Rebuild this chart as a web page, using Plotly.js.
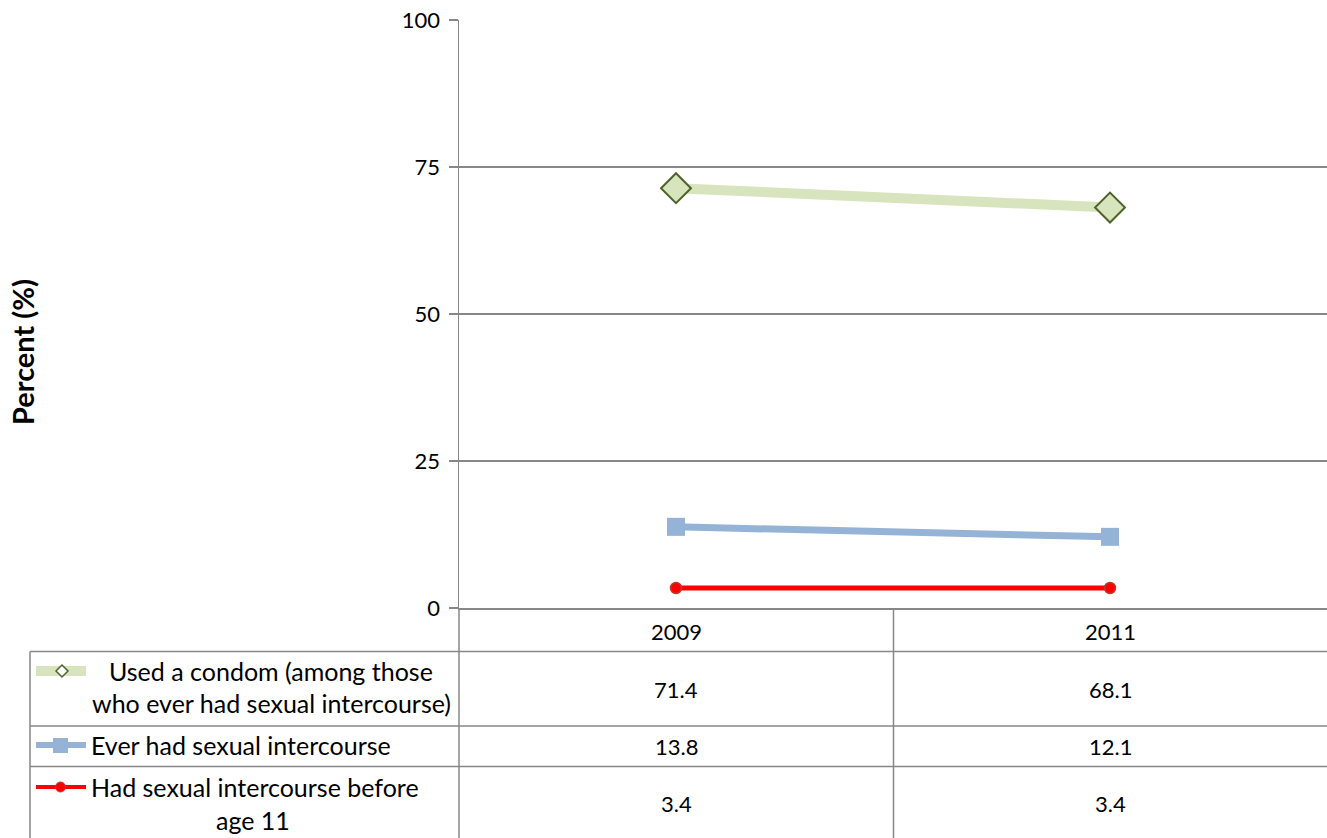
<!DOCTYPE html>
<html>
<head>
<meta charset="utf-8">
<script src="https://cdn.plot.ly/plotly-3.0.1.min.js"></script>
<style>html,body{margin:0;padding:0;background:#fff;}#chart{width:1327px;height:838px;}</style>
</head>
<body>
<div id="chart"></div>
<script>
// ---- data ----
var categories = ['2009', '2011'];
var condomValues = [71.4, 68.1];
var everValues = [13.8, 12.1];
var before11Values = [3.4, 3.4];
var yTickValues = [0, 25, 50, 75, 100];
var yTickLabels = ['0', '25', '50', '75', '100'];

var W = 1327, H = 838;
var L = 459, R = 0, T = 20, B = 230;
var plotW = W - L - R, plotH = H - T - B;
function px(x) { return (x - L) / plotW; }
function py(y) { return (H - B - y) / plotH; }

var FONT = 'Lato, "Open Sans", sans-serif';
var GRID = '#878787';
var xIdx = categories.map(function (c, i) { return i; });

var traces = [
  {
    x: xIdx, y: condomValues, type: 'scatter', mode: 'lines+markers',
    name: 'Used a condom (among those who ever had sexual intercourse)',
    line: { color: '#d7e4bd', width: 10 },
    marker: { symbol: 'diamond', size: 23, color: '#d7e4bd', line: { color: '#4f6228', width: 2 } }
  },
  {
    x: xIdx, y: everValues, type: 'scatter', mode: 'lines+markers',
    name: 'Ever had sexual intercourse',
    line: { color: '#95b3d7', width: 7 },
    marker: { symbol: 'square', size: 18, color: '#95b3d7', line: { width: 0 } }
  },
  {
    x: xIdx, y: before11Values, type: 'scatter', mode: 'lines+markers',
    name: 'Had sexual intercourse before age 11',
    line: { color: '#ff0000', width: 5 },
    marker: { symbol: 'circle', size: 11, color: '#ff0000', line: { color: '#c0392b', width: 1.5 } }
  }
];

var shapes = [];
function hline(x0, x1, y) {
  shapes.push({ type: 'line', xref: 'paper', yref: 'paper', x0: px(x0), x1: px(x1), y0: py(y), y1: py(y), line: { color: GRID, width: 1.5 } });
}
function vline(x, y0, y1) {
  shapes.push({ type: 'line', xref: 'paper', yref: 'paper', x0: px(x), x1: px(x), y0: py(y0), y1: py(y1), line: { color: GRID, width: 1.5 } });
}
// table grid
hline(30, W, 651.5);
hline(30, W, 726);
hline(30, W, 766.5);
vline(30, 651.5, H);
vline(459, 608, H);
vline(893.5, 608, H);

// legend keys
function keyLine(x0, x1, y, color, width) {
  shapes.push({ type: 'line', xref: 'paper', yref: 'paper', x0: px(x0), x1: px(x1), y0: py(y), y1: py(y), line: { color: color, width: width } });
}
keyLine(36, 86, 671, '#d7e4bd', 10);
keyLine(36, 86, 745, '#95b3d7', 6);
keyLine(36, 86, 787, '#ff0000', 4);
// diamond key
(function () {
  var cx = 62, cy = 671, r = 6;
  var p = 'M' + px(cx) + ',' + py(cy - r) + ' L' + px(cx + r) + ',' + py(cy) + ' L' + px(cx) + ',' + py(cy + r) + ' L' + px(cx - r) + ',' + py(cy) + ' Z';
  shapes.push({ type: 'path', xref: 'paper', yref: 'paper', path: p, fillcolor: '#ffffff', line: { color: '#4f6228', width: 1.5 } });
})();
// square key
shapes.push({ type: 'rect', xref: 'paper', yref: 'paper', x0: px(53), x1: px(68), y0: py(738), y1: py(753), fillcolor: '#95b3d7', line: { width: 0 } });
// circle key
shapes.push({ type: 'circle', xref: 'paper', yref: 'paper', x0: px(55.5), x1: px(65.5), y0: py(782), y1: py(792), fillcolor: '#ff0000', line: { color: '#c0392b', width: 1 } });

var annotations = [];
function txt(text, x, y, opts) {
  opts = opts || {};
  annotations.push({
    text: text, xref: opts.xref || 'paper', yref: 'paper',
    x: opts.xref === 'x' ? x : px(x), y: py(y),
    xanchor: opts.xanchor || 'center', yanchor: 'middle', align: opts.align || 'center',
    showarrow: false, textangle: opts.angle || 0,
    font: { family: FONT, size: opts.size || 25, color: '#000' }
  });
}
// y-axis title
txt('<b>Percent (%)</b>', 22, 352, { angle: -90, size: 29 });
// category header
categories.forEach(function (c, i) { txt(c, i, 631, { xref: 'x', size: 22 }); });
// series labels
txt('Used a condom (among those', 271, 671);
txt('who ever had sexual intercourse)', 271, 703);
txt('Ever had sexual intercourse', 89, 745, { xanchor: 'left', align: 'left' });
txt('Had sexual intercourse before', 89, 787, { xanchor: 'left', align: 'left' });
txt('age 11', 253, 820);
// values
var rowsY = [689, 746, 803];
[condomValues, everValues, before11Values].forEach(function (vals, r) {
  vals.forEach(function (v, i) { txt(v.toFixed(1), i, rowsY[r], { xref: 'x', size: 22 }); });
});

var layout = {
  width: W, height: H,
  margin: { l: L, r: R, t: T, b: B, pad: 0 },
  paper_bgcolor: '#ffffff', plot_bgcolor: '#ffffff',
  showlegend: false,
  xaxis: {
    range: [-0.5, categories.length - 0.5], showgrid: false, zeroline: false,
    showticklabels: false, ticks: '', showline: true, linecolor: GRID, linewidth: 1.5, fixedrange: true
  },
  yaxis: {
    range: [0, 100], tickvals: yTickValues, ticktext: yTickLabels,
    showgrid: true, gridcolor: GRID, gridwidth: 1.2, zeroline: false,
    showline: true, linecolor: GRID, linewidth: 1.5,
    ticks: 'outside', ticklen: 9, tickcolor: GRID, tickwidth: 1.2,
    tickfont: { family: FONT, size: 22, color: '#000' }, ticklabelstandoff: 4, fixedrange: true
  },
  shapes: shapes,
  annotations: annotations
};

Plotly.newPlot('chart', traces, layout, { displayModeBar: false, staticPlot: true });
</script>
</body>
</html>
